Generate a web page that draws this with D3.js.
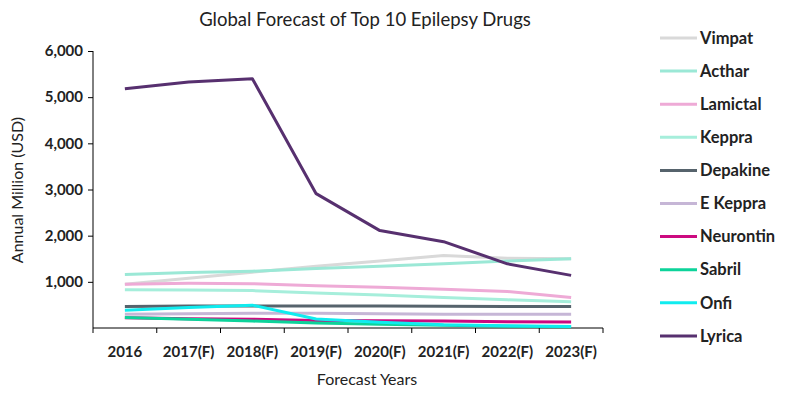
<!doctype html>
<html>
<head>
    <script src="https://d3js.org/d3.v7.min.js"></script>
</head>
<style>
    body { margin: 0; background: #fff; }
    svg text { font-family: Lato, "Open Sans", sans-serif; fill: #222; }
    .tick text { font-weight: bold; font-size: 15px; }
    .legend text { font-weight: bold; font-size: 16.5px; }
</style>
<body>
    <div id="chart"></div>
    <script>
        // categories and series
        var years = ["2016", "2017(F)", "2018(F)", "2019(F)", "2020(F)", "2021(F)", "2022(F)", "2023(F)"];
        var drugs = ["Vimpat", "Acthar", "Lamictal", "Keppra", "Depakine", "E Keppra", "Neurontin", "Sabril", "Onfi", "Lyrica"];

        var vimpat    = [950, 1080, 1210, 1340, 1450, 1570, 1510, 1500];
        var acthar    = [1160, 1200, 1230, 1290, 1340, 1390, 1450, 1500];
        var lamictal  = [950, 970, 960, 915, 880, 840, 790, 660];
        var keppra    = [830, 825, 810, 760, 715, 660, 610, 570];
        var depakine  = [465, 475, 475, 475, 475, 470, 465, 465];
        var eKeppra   = [300, 310, 320, 320, 310, 300, 300, 300];
        var neurontin = [220, 200, 190, 165, 155, 150, 135, 130];
        var sabril    = [225, 190, 150, 110, 80, 60, 40, 25];
        var onfi      = [385, 445, 495, 195, 125, 70, 50, 35];
        var lyrica    = [5180, 5330, 5400, 2910, 2110, 1870, 1390, 1140];

        var yTicks = [1000, 2000, 3000, 4000, 5000, 6000];

        var series = [vimpat, acthar, lamictal, keppra, depakine, eKeppra, neurontin, sabril, onfi, lyrica];
        var colors = ["#d9d9d9", "#9be8d6", "#eeaad6", "#a6eedb", "#56636c", "#c6b6d6", "#cc0a80", "#0dd39a", "#10ecef", "#57306f"];

        var width = 800, height = 404;
        var plotLeft = 93, plotRight = 603, plotTop = 51, plotBottom = 328;

        var svg = d3.select("#chart").append("svg")
            .attr("width", width)
            .attr("height", height);

        var x = d3.scaleBand().domain(years).range([plotLeft, plotRight]);
        var y = d3.scaleLinear().domain([0, 6000]).range([plotBottom, plotTop]);

        // y axis
        svg.append("g")
            .attr("transform", "translate(" + plotLeft + ",0)")
            .call(d3.axisLeft(y).tickValues(yTicks).tickSize(5).tickPadding(5).tickFormat(d3.format(",")))
            .call(function(g) { g.select(".domain").attr("d", "M0," + plotTop + "H0V" + plotBottom); });

        // x axis with ticks on category edges
        var xg = svg.append("g")
            .attr("transform", "translate(0," + plotBottom + ")")
            .call(d3.axisBottom(x).tickSize(0).tickPadding(18));
        xg.select(".domain").attr("d", "M" + plotLeft + ",0H" + plotRight);
        xg.selectAll(".edge")
            .data(d3.range(years.length + 1))
            .enter().append("line")
            .attr("x1", function(i) { return plotLeft + i * x.step(); })
            .attr("x2", function(i) { return plotLeft + i * x.step(); })
            .attr("y1", 0).attr("y2", 5)
            .attr("stroke", "#000");
        svg.selectAll(".domain, .tick line").attr("stroke", "#000");

        var line = d3.line()
            .x(function(d, i) { return x(years[i]) + x.bandwidth() / 2; })
            .y(function(d) { return y(d); });

        svg.selectAll(".series")
            .data(series)
            .enter().append("path")
            .attr("class", "series")
            .attr("d", line)
            .attr("fill", "none")
            .attr("stroke", function(d, i) { return colors[i]; })
            .attr("stroke-width", 3)
            .attr("stroke-linejoin", "round");

        // titles
        svg.append("text")
            .attr("x", 365).attr("y", 26)
            .attr("text-anchor", "middle")
            .attr("font-size", "18.5px")
            .text("Global Forecast of Top 10 Epilepsy Drugs");

        svg.append("text")
            .attr("x", 367).attr("y", 385)
            .attr("text-anchor", "middle")
            .attr("font-size", "16px")
            .text("Forecast Years");

        svg.append("text")
            .attr("transform", "translate(23,190) rotate(-90)")
            .attr("text-anchor", "middle")
            .attr("font-size", "16px")
            .text("Annual Million (USD)");

        // legend
        var leg = svg.append("g").attr("class", "legend")
            .selectAll("g")
            .data(drugs)
            .enter().append("g")
            .attr("transform", function(d, i) { return "translate(660," + (38 + i * 33.1) + ")"; });
        leg.append("line")
            .attr("x1", 0).attr("x2", 37)
            .attr("stroke", function(d, i) { return colors[i]; })
            .attr("stroke-width", 3);
        leg.append("text")
            .attr("x", 40).attr("dy", "0.35em")
            .text(function(d) { return d; });
    </script>
</body>
</html>
